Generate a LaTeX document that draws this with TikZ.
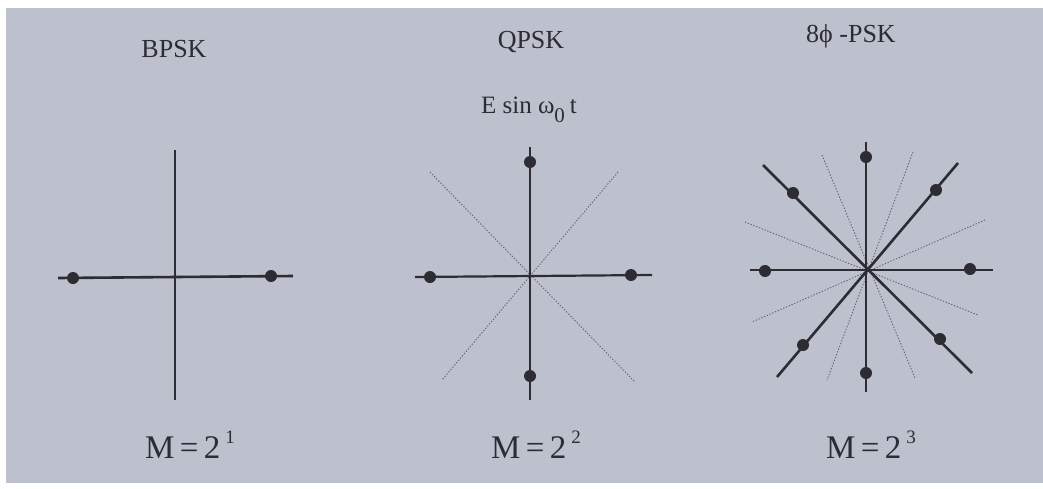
\documentclass[tikz,border=0pt]{standalone}
\usepackage{fontspec}
\setmainfont{Liberation Serif}
\usetikzlibrary{arrows.meta}

\definecolor{paper}{RGB}{189,193,205}
\definecolor{ink}{RGB}{44,44,50}
\definecolor{guidegray}{RGB}{96,98,110}

\tikzset{
  axisline/.style={draw=ink, line width=2.2pt},
  guideline/.style={draw=guidegray, line width=0.9pt, dash pattern=on 1.3pt off 1.7pt},
  symbol/.style={circle, fill=ink, inner sep=0pt, minimum size=12pt},
  heading/.style={anchor=base, text=ink, font=\fontsize{26}{30}\selectfont},
  msize/.style={anchor=base, text=ink, font=\fontsize{33}{38}\selectfont},
}

\newcommand{\powtwo}[1]{M\,=\,2\hspace{5pt}\raisebox{15pt}{\fontsize{19}{19}\selectfont #1}}

\begin{document}
\begin{tikzpicture}[x=1pt,y=-1pt]

\useasboundingbox (0,0) rectangle (1043,488);

% Scanned page
\fill[white] (0,0) rectangle (1043,488);
\fill[paper] (6,8) rectangle (1043,483);

% ---------------- BPSK ----------------
\coordinate (bc) at (175,277);
\coordinate (bn) at (175,150);
\coordinate (bs) at (175,400);
\coordinate (bw) at (58,278);
\coordinate (be) at (293,276);

\draw[axisline, line width=1.5pt] (bn) -- (bs);
\draw[axisline, line width=2.6pt] (bw) -- (be);

\node[symbol] (b0) at (271,276) {};
\node[symbol] (b1) at (73,278) {};

\node[heading] (bname) at (174,57) {BPSK};
\node[msize] (bm) at (190,458) {\powtwo{1}};

% ---------------- QPSK ----------------
\coordinate (qc) at (530,276);
\coordinate (qn) at (530,147);
\coordinate (qs) at (530,400);
\coordinate (qw) at (415,277);
\coordinate (qe) at (652,275);

% decision boundaries
\coordinate (qg1) at (430,172);
\coordinate (qg2) at (635,382);
\coordinate (qg3) at (618,172);
\coordinate (qg4) at (442,380);
\draw[guideline] (qg1) -- (qg2);
\draw[guideline] (qg3) -- (qg4);

\draw[axisline] (qn) -- (qs);
\draw[axisline] (qw) -- (qe);

\node[symbol] (q0) at (631,275) {};
\node[symbol] (q1) at (530,162) {};
\node[symbol] (q2) at (430,277) {};
\node[symbol] (q3) at (530,376) {};

\node[heading] (qname) at (531,48) {QPSK};
\node[anchor=base, text=ink, font=\fontsize{25}{29}\selectfont] (qsin) at (529,113)
    {E sin ω\raisebox{-9pt}{\fontsize{21}{21}\selectfont 0}\hspace{5pt}t};
\node[msize] (qm) at (536,458) {\powtwo{2}};

% ---------------- 8-PSK ----------------
\coordinate (pc) at (866,270);
\coordinate (pn) at (866,142);
\coordinate (ps) at (866,392);
\coordinate (pw) at (750,270);
\coordinate (pe) at (993,270);
\coordinate (pnw) at (763,165);
\coordinate (pse) at (972,373);
\coordinate (pne) at (958,163);
\coordinate (psw) at (777,377);

% decision boundaries
\coordinate (pg1) at (822,155);
\coordinate (pg2) at (915,378);
\coordinate (pg3) at (913,152);
\coordinate (pg4) at (827,380);
\coordinate (pg5) at (745,222);
\coordinate (pg6) at (978,315);
\coordinate (pg7) at (985,220);
\coordinate (pg8) at (752,322);
\draw[guideline] (pg1) -- (pg2);
\draw[guideline] (pg3) -- (pg4);
\draw[guideline] (pg5) -- (pg6);
\draw[guideline] (pg7) -- (pg8);

\draw[axisline, line width=2.6pt] (pw) -- (pe);
\draw[axisline] (pn) -- (ps);
\draw[axisline, line width=2.6pt] (pnw) -- (pse);
\draw[axisline, line width=2.6pt] (pne) -- (psw);

\node[symbol] (p0) at (970,269) {};
\node[symbol] (p1) at (936,190) {};
\node[symbol] (p2) at (866,157) {};
\node[symbol] (p3) at (793,193) {};
\node[symbol] (p4) at (765,271) {};
\node[symbol] (p5) at (803,345) {};
\node[symbol] (p6) at (866,373) {};
\node[symbol] (p7) at (940,339) {};

\node[heading] (pname) at (851,42) {8ϕ -PSK};
\node[msize] (pm) at (871,458) {\powtwo{3}};

\end{tikzpicture}
\end{document}
